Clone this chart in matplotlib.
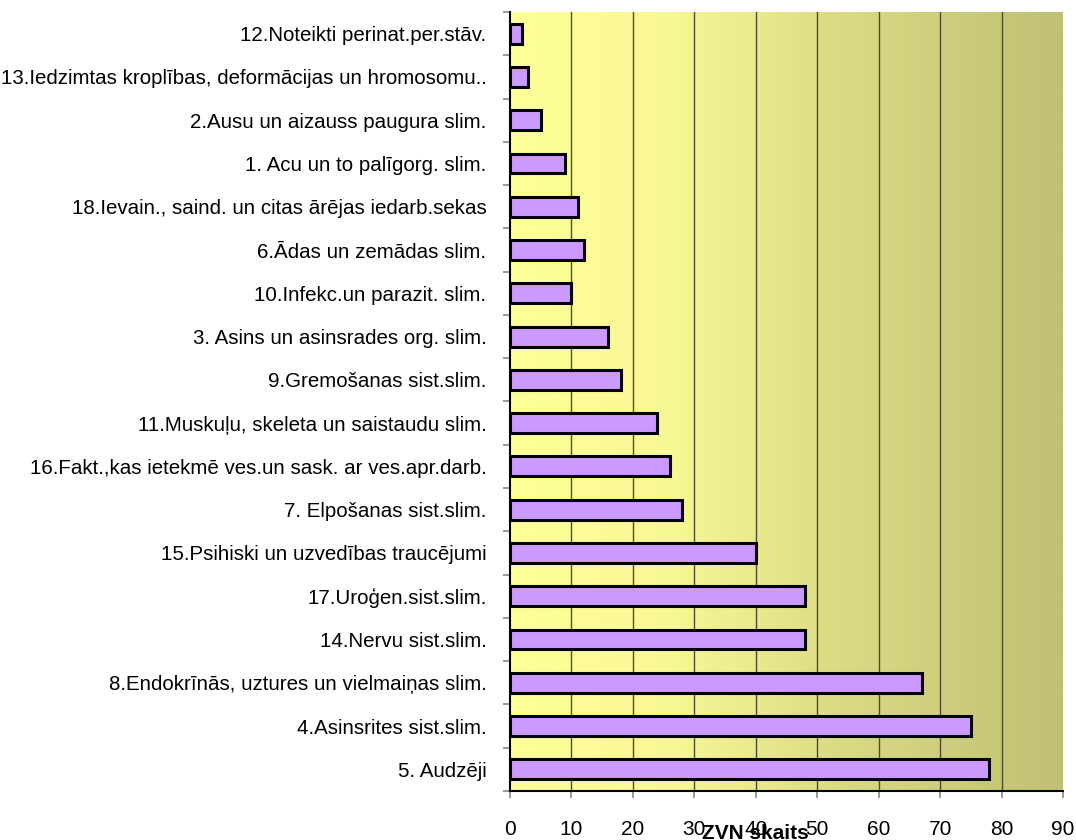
import numpy as np
import matplotlib
matplotlib.use('Agg')
import matplotlib.pyplot as plt
from matplotlib.colors import LinearSegmentedColormap

plt.rcParams['font.family'] = ['Liberation Sans', 'DejaVu Sans']

# diagnožu grupas (no apakšas uz augšu) un ZVN skaits
categories = [
    "5. Audzēji",
    "4.Asinsrites sist.slim.",
    "8.Endokrīnās, uztures un vielmaiņas slim.",
    "14.Nervu sist.slim.",
    "17.Uroģen.sist.slim.",
    "15.Psihiski un uzvedības traucējumi",
    "7. Elpošanas sist.slim.",
    "16.Fakt.,kas ietekmē ves.un sask. ar ves.apr.darb.",
    "11.Muskuļu, skeleta un saistaudu slim.",
    "9.Gremošanas sist.slim.",
    "3. Asins un asinsrades org. slim.",
    "10.Infekc.un parazit. slim.",
    "6.Ādas un zemādas slim.",
    "18.Ievain., saind. un citas ārējas iedarb.sekas",
    "1. Acu un to palīgorg. slim.",
    "2.Ausu un aizauss paugura slim.",
    "13.Iedzimtas kroplības, deformācijas un hromosomu..",
    "12.Noteikti perinat.per.stāv.",
]
values = [78, 75, 67, 48, 48, 40, 28, 26, 24, 18, 16, 10, 12, 11, 9, 5, 3, 2]
x_ticks = list(range(0, 100, 10))
x_label = "ZVN skaits"

W, H = 1076, 840
fig = plt.figure(figsize=(W / 100, H / 100), dpi=100)
ax = fig.add_axes([510 / W, 1 - 791 / H, 553 / W, 779 / H])

y = np.arange(len(categories))
ymin, ymax = -0.5, len(categories) - 0.5

# fons - horizontāls gradients no gaiši dzeltena uz olīvu
bg = LinearSegmentedColormap.from_list('bg', [
    (0.0, '#FFFF99'), (0.3, '#F8F795'), (0.62, '#D9D883'), (1.0, '#C0C074')])
grad = np.linspace(0, 1, 512).reshape(1, -1)
ax.imshow(grad, extent=[x_ticks[0], x_ticks[-1], ymin, ymax], aspect='auto',
          cmap=bg, interpolation='bicubic', zorder=0)

for xv in x_ticks[1:-1]:
    ax.axvline(xv, color='#4d4d30', linewidth=1.0, zorder=1)

ax.barh(y, values, height=0.46, color='#CC99FF', edgecolor='black',
        linewidth=2.2, zorder=3)

ax.set_xlim(x_ticks[0], x_ticks[-1])
ax.set_ylim(ymin, ymax)

ax.set_xticks(x_ticks)
ax.set_xticklabels([str(v) for v in x_ticks])
ax.set_yticks(y)
ax.set_yticklabels(categories)
ax.set_yticks(np.arange(len(categories) + 1) - 0.5, minor=True)

ax.tick_params(axis='x', length=5, width=1.2, color='#888888', pad=16, labelsize=15)
ax.tick_params(axis='y', which='major', length=0, pad=17, labelsize=14.8)
ax.tick_params(axis='y', which='minor', length=5, width=1.2, color='#888888')

for side in ['top', 'right']:
    ax.spines[side].set_visible(False)
for side in ['left', 'bottom']:
    ax.spines[side].set_color('black')
    ax.spines[side].set_linewidth(1.5)
    ax.spines[side].set_zorder(4)

fig.text(755 / W, 1 - 839 / H, x_label, ha='center', va='baseline',
         fontsize=15, fontweight='bold')

fig.savefig('out.png', dpi=100, facecolor='white')
